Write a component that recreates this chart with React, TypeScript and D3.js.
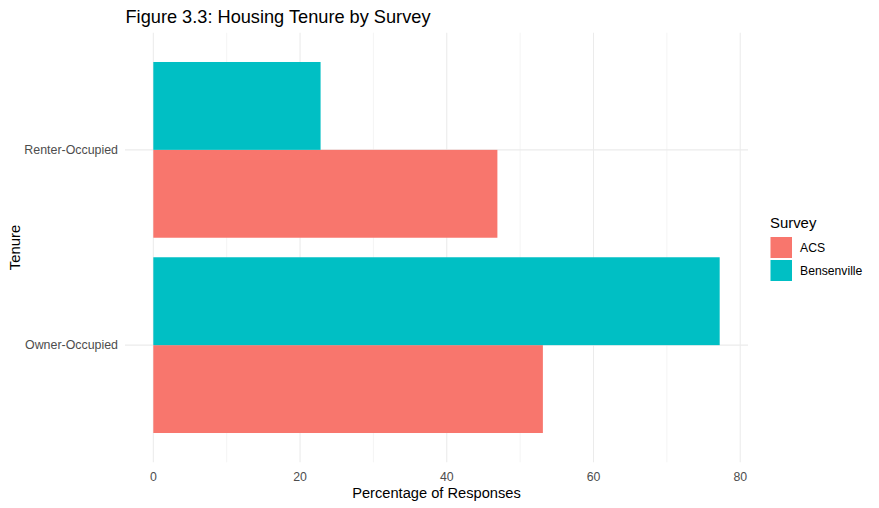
import React, { useEffect, useRef } from 'react';
import * as d3 from 'd3';

// Tenure categories, top to bottom
const tenures = ['Renter-Occupied', 'Owner-Occupied'];
const surveys = ['ACS', 'Bensenville'];
const acsValues = [46.9, 53.1];
const bensenvilleValues = [22.8, 77.2];
const xTicks = [0, 20, 40, 60, 80];
const xMinorTicks = [10, 30, 50, 70];

const colors: Record<string, string> = { ACS: '#F8766D', Bensenville: '#00BFC4' };

export default function App() {
  const svgRef = useRef<SVGSVGElement>(null);

  useEffect(() => {
    if (!svgRef.current) return;
    const svg = d3.select(svgRef.current);
    svg.selectAll('*').remove();

    const font = "'Liberation Sans', Arial, sans-serif";
    const panel = { left: 125, right: 748, top: 32.7, bottom: 462.3 };

    const data = tenures.flatMap((t, i) => [
      { tenure: t, survey: 'ACS', value: acsValues[i] },
      { tenure: t, survey: 'Bensenville', value: bensenvilleValues[i] },
    ]);

    const maxVal = d3.max(data, d => d.value) || 0;
    const pad = maxVal * 0.05;
    const x = d3.scaleLinear().domain([-pad, maxVal + pad]).range([panel.left, panel.right]);

    const y = d3.scaleBand<string>()
      .domain(tenures)
      .range([panel.top, panel.bottom])
      .paddingInner(0.1)
      .paddingOuter(0.15);

    // within a band, Bensenville sits above ACS
    const ySub = d3.scaleBand<string>()
      .domain(['Bensenville', 'ACS'])
      .range([0, y.bandwidth()]);

    const grid = svg.append('g');
    // minor vertical grid
    grid.selectAll('line.minor')
      .data(xMinorTicks)
      .enter().append('line')
      .attr('x1', d => x(d)).attr('x2', d => x(d))
      .attr('y1', panel.top).attr('y2', panel.bottom)
      .attr('stroke', '#EBEBEB').attr('stroke-width', 0.55);
    // major vertical grid
    grid.selectAll('line.major')
      .data(xTicks)
      .enter().append('line')
      .attr('x1', d => x(d)).attr('x2', d => x(d))
      .attr('y1', panel.top).attr('y2', panel.bottom)
      .attr('stroke', '#EBEBEB').attr('stroke-width', 1.07);
    // horizontal grid at category centres
    grid.selectAll('line.h')
      .data(tenures)
      .enter().append('line')
      .attr('x1', panel.left).attr('x2', panel.right)
      .attr('y1', d => (y(d) as number) + y.bandwidth() / 2)
      .attr('y2', d => (y(d) as number) + y.bandwidth() / 2)
      .attr('stroke', '#EBEBEB').attr('stroke-width', 1.07);

    // bars
    svg.append('g')
      .selectAll('rect')
      .data(data)
      .enter().append('rect')
      .attr('x', x(0))
      .attr('y', d => (y(d.tenure) as number) + (ySub(d.survey) as number))
      .attr('width', d => x(d.value) - x(0))
      .attr('height', ySub.bandwidth())
      .attr('fill', d => colors[d.survey]);

    // x tick labels
    svg.append('g')
      .selectAll('text')
      .data(xTicks)
      .enter().append('text')
      .attr('x', d => x(d))
      .attr('y', 481)
      .attr('text-anchor', 'middle')
      .attr('fill', '#4D4D4D')
      .style('font-family', font)
      .style('font-size', '12.3px')
      .text(d => d);

    // y tick labels
    svg.append('g')
      .selectAll('text')
      .data(tenures)
      .enter().append('text')
      .attr('x', 118)
      .attr('y', d => (y(d) as number) + y.bandwidth() / 2)
      .attr('dy', '0.35em')
      .attr('text-anchor', 'end')
      .attr('fill', '#4D4D4D')
      .style('font-family', font)
      .style('font-size', '12.4px')
      .text(d => d);

    // axis titles
    svg.append('text')
      .attr('x', (panel.left + panel.right) / 2)
      .attr('y', 498.3)
      .attr('text-anchor', 'middle')
      .attr('fill', '#000')
      .style('font-family', font)
      .style('font-size', '14.67px')
      .text('Percentage of Responses');

    svg.append('text')
      .attr('transform', `translate(19.5,${(panel.top + panel.bottom) / 2}) rotate(-90)`)
      .attr('text-anchor', 'middle')
      .attr('fill', '#000')
      .style('font-family', font)
      .style('font-size', '14.9px')
      .text('Tenure');

    // title
    svg.append('text')
      .attr('x', 125.5)
      .attr('y', 22.5)
      .attr('fill', '#000')
      .style('font-family', font)
      .style('font-size', '18.2px')
      .text('Figure 3.3: Housing Tenure by Survey');

    // legend
    const legend = svg.append('g').attr('transform', 'translate(770,0)');
    legend.append('text')
      .attr('x', 0)
      .attr('y', 228)
      .attr('fill', '#000')
      .style('font-family', font)
      .style('font-size', '14.9px')
      .text('Survey');

    const keys = legend.selectAll('g.key')
      .data(surveys)
      .enter().append('g')
      .attr('transform', (_d, i) => `translate(0,${236.5 + i * 23})`);
    keys.append('rect')
      .attr('x', 0.5).attr('y', 0.5)
      .attr('width', 21.5).attr('height', 21)
      .attr('fill', d => colors[d]);
    keys.append('text')
      .attr('x', 30)
      .attr('y', 11.5)
      .attr('dy', '0.35em')
      .attr('fill', '#000')
      .style('font-family', font)
      .style('font-size', '12.2px')
      .text(d => d);
  }, []);

  return (
    <svg
      ref={svgRef}
      width={879}
      height={508}
      style={{ position: 'absolute', left: 0, top: 0, background: '#fff' }}
    />
  );
}
